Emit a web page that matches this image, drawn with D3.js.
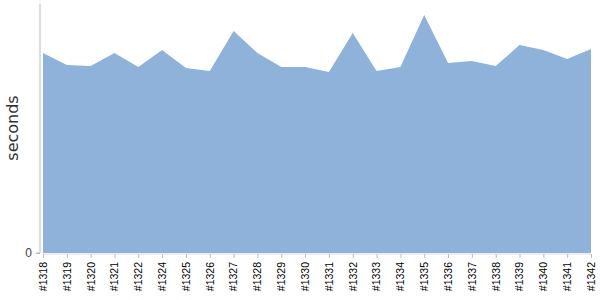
<!DOCTYPE html>
<html><head><meta charset="utf-8">
<script src="https://cdn.jsdelivr.net/npm/d3@7"></script>
<style>body{margin:0;background:#fff;}svg{display:block;font-family:"DejaVu Sans",Verdana,sans-serif;}</style>
</head><body><svg id="c" width="600" height="300"></svg>
<script>
const builds = ["#1318","#1319","#1320","#1321","#1322","#1324","#1325","#1326","#1327","#1328","#1329","#1330","#1331","#1332","#1333","#1334","#1335","#1336","#1337","#1338","#1339","#1340","#1341","#1342"];
const seconds = [200,188,187,200,186,203,185,182,222,200,186,186,181,220,182,186,238,190,192,187,208,203,194,204];
const yTicks = [0];
const yLabel = "seconds";

const svg = d3.select("#c");
const m = {left:43, right:9, top:4, bottom:47};
const W = 600, H = 300;
const x = d3.scalePoint().domain(builds).range([m.left, W - m.right]);
const y = d3.scaleLinear().domain([0, 249]).range([H - m.bottom, m.top]);

const data = builds.map((b,i)=>({b, v:seconds[i]}));
svg.append("path").datum(data)
  .attr("fill","#8fb2db")
  .attr("d", d3.area().x(d=>x(d.b)).y0(y(0)).y1(d=>y(d.v)));

// y axis
const ya = svg.append("g").attr("transform",`translate(40,0)`)
  .call(d3.axisLeft(y).tickValues(yTicks).tickSize(4).tickPadding(4));
ya.select(".domain").attr("stroke","#bbb").attr("d",`M-4,${y(0)}H0V${m.top}`);
ya.selectAll(".tick line").attr("stroke","#bbb");
ya.selectAll(".tick text").attr("fill","#444").attr("font-size","12px");

// x axis
const xa = svg.append("g").attr("transform",`translate(0,${y(0)+1})`)
  .call(d3.axisBottom(x).tickSize(4).tickPadding(3));
xa.select(".domain").attr("stroke","#ddd").attr("d",`M${m.left},0H${W-m.right}`);
xa.selectAll(".tick line").attr("stroke","#bbb");
xa.selectAll(".tick text").attr("fill","#000").attr("font-size","10.5px")
  .attr("transform","rotate(-90)").attr("text-anchor","end")
  .attr("dy","0.32em").attr("x",-8).attr("y",0);

svg.append("text").attr("transform","translate(18,128) rotate(-90)")
  .attr("text-anchor","middle").attr("fill","#333").attr("font-size","16px")
  .text(yLabel);
</script></body></html>
